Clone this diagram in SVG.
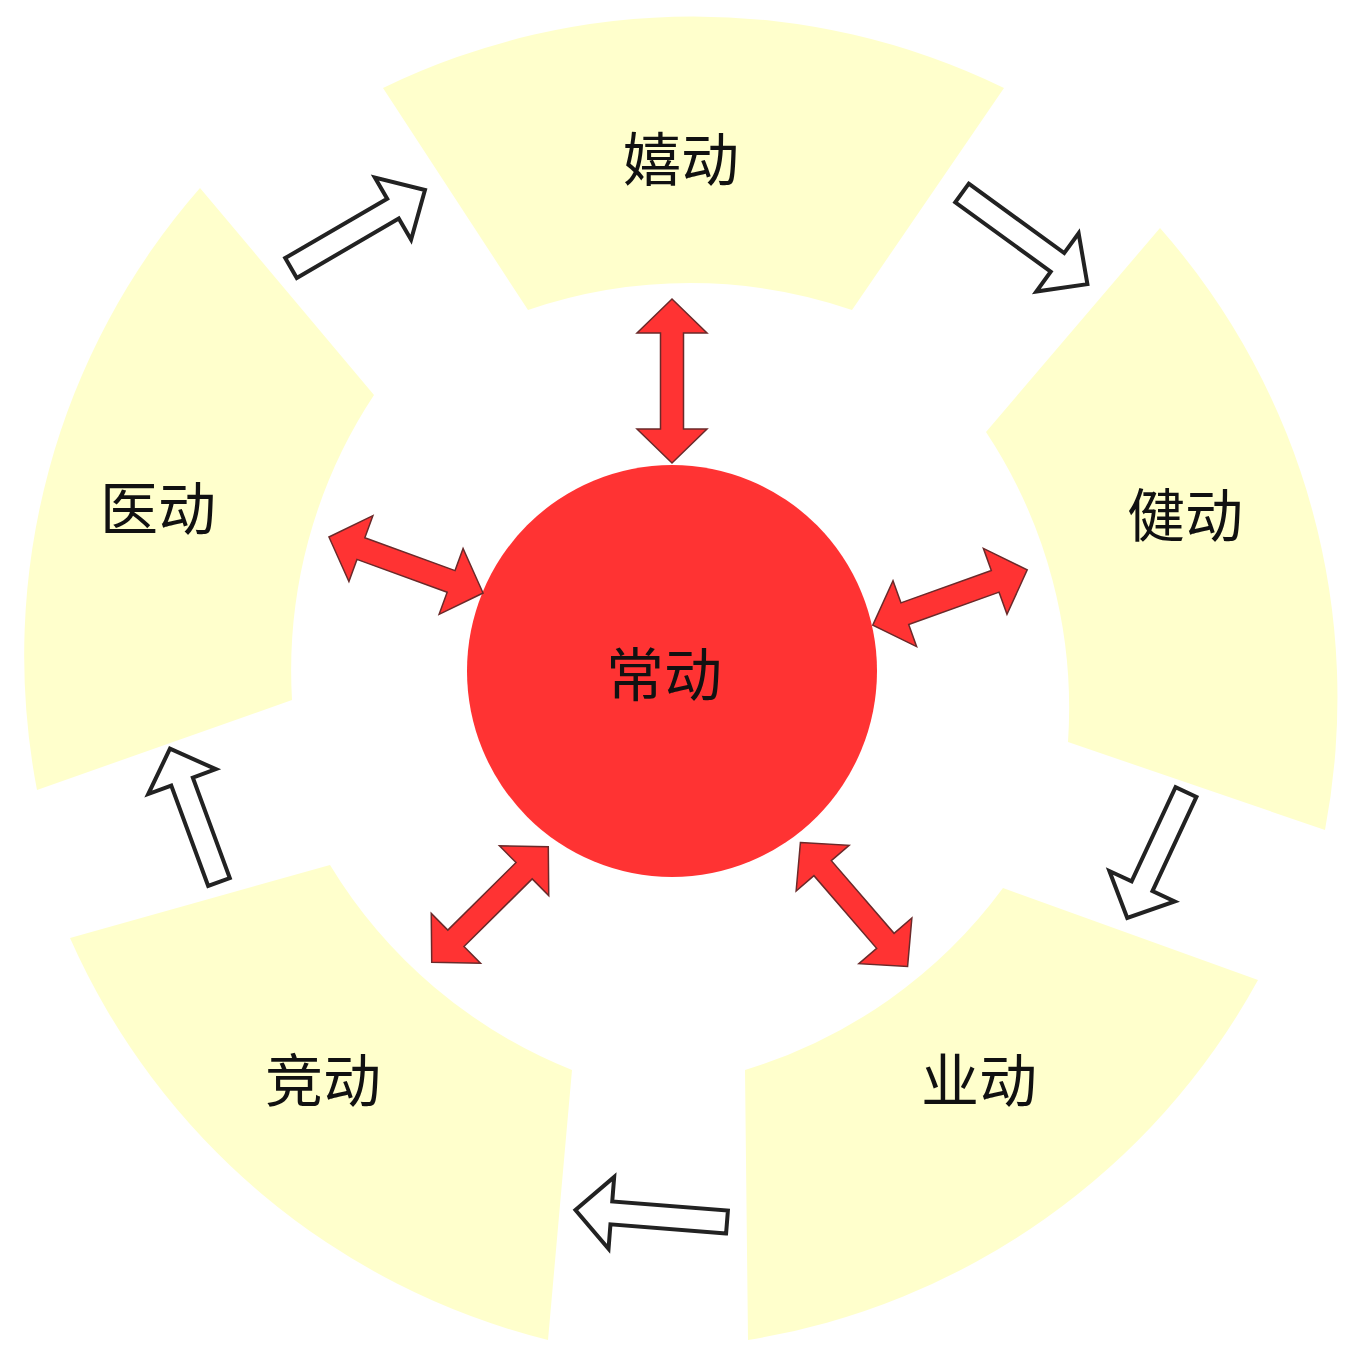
<svg xmlns="http://www.w3.org/2000/svg" width="1364" height="1359" viewBox="0 0 1364 1359">
<style>
.seg{fill:#FFFFCC;stroke:none}
.lbl{font-family:"Noto Sans CJK SC","Noto Sans CJK JP",sans-serif;font-size:58px;fill:#111;text-anchor:middle;dominant-baseline:central}
.flow{fill:#FFFFFF;stroke:#222222;stroke-width:4;stroke-linejoin:miter}
.link{fill:#FF3333;stroke:#6B2A2A;stroke-width:1.5;stroke-linejoin:miter}
</style>
<defs>
<path id="dbl" d="M-82,0 L-48,-35 L-48,-11.5 L48,-11.5 L48,-35 L82,0 L48,35 L48,11.5 L-48,11.5 L-48,35 Z"/>
</defs>
<rect width="1364" height="1359" fill="#FFFFFF"/>
<g id="node-xidong">
<path class="seg" d="M383,88 A710,710 0 0 1 1004,88 L852,310 A500,500 0 0 0 528,310 Z"/>
<text class="lbl" x="681" y="156">嬉动</text>
</g>
<g id="node-jiandong">
<path class="seg" d="M1160,228 A710,710 0 0 1 1325,830 L1068,742 A500,500 0 0 0 986,432 Z"/>
<text class="lbl" x="1185" y="512">健动</text>
</g>
<g id="node-yedong">
<path class="seg" d="M1258,980 A710,710 0 0 1 748,1340 L745,1070 A500,500 0 0 0 1003,888 Z"/>
<text class="lbl" x="979" y="1077">业动</text>
</g>
<g id="node-jingdong">
<path class="seg" d="M548,1340 A710,710 0 0 1 70,938 L330,865 A500,500 0 0 0 572,1070 Z"/>
<text class="lbl" x="323" y="1077">竞动</text>
</g>
<g id="node-yidong">
<path class="seg" d="M37,790 A710,710 0 0 1 200,188 L374,395 A500,500 0 0 0 292,700 Z"/>
<text class="lbl" x="158" y="505">医动</text>
</g>
<g id="node-changdong">
<ellipse cx="672" cy="671" rx="205" ry="206" fill="#FF3333"/>
<text class="lbl" x="664" y="671">常动</text>
</g>
<g id="connectors">
<path class="flow" transform="translate(291,268) rotate(-30.2)" d="M0,-11.5 H118 V-36 L155,0 L118,36 V11.5 H0 Z"/>
<path class="flow" transform="translate(962,193) rotate(36)" d="M0,-11.5 H118 V-36 L155,0 L118,36 V11.5 H0 Z"/>
<path class="flow" transform="translate(1186,792) rotate(115)" d="M0,-11.5 H104 V-36 L139,0 L104,36 V11.5 H0 Z"/>
<path class="flow" transform="translate(727,1222) rotate(184.5)" d="M0,-11.5 H116 V-36 L152,0 L116,36 V11.5 H0 Z"/>
<path class="flow" transform="translate(219,882) rotate(-110.2)" d="M0,-11.5 H107 V-36 L142,0 L107,36 V11.5 H0 Z"/>
<use href="#dbl" class="link" transform="translate(672,381) rotate(90)"/>
<use href="#dbl" class="link" transform="translate(406,565) rotate(20)"/>
<use href="#dbl" class="link" transform="translate(950,597.5) rotate(-19.7)"/>
<use href="#dbl" class="link" transform="translate(490,904.5) rotate(-44.7)"/>
<use href="#dbl" class="link" transform="translate(854,904.5) rotate(49.2)"/>
</g>
</svg>
